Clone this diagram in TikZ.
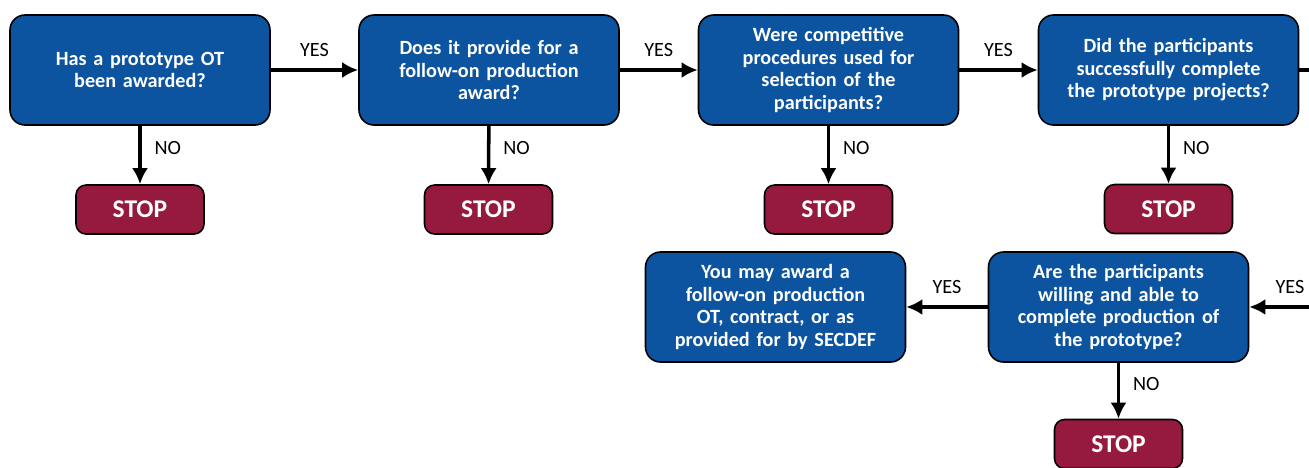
\documentclass[tikz,border=0pt]{standalone}
\usepackage{fontspec}
\setmainfont{Carlito}
\usetikzlibrary{arrows.meta}
\definecolor{qblue}{RGB}{12,84,160}
\definecolor{stopred}{RGB}{150,26,62}
\begin{document}
\begin{tikzpicture}
    [pre/.style={{Latex[length=3.2mm,width=3.2mm]}-,line width=2pt},
     qbox/.style={shape=rectangle,draw=black,line width=0.9pt,fill=qblue,
       rounded corners=0.3cm,minimum width=5.2cm,minimum height=2.2cm,
       text width=4.8cm,align=center,text=white,
       font=\bfseries\fontsize{11.5}{12.8}\selectfont},
     stopbox/.style={shape=rectangle,draw=black,line width=0.9pt,fill=stopred,
       rounded corners=0.2cm,minimum width=2.56cm,minimum height=0.98cm,
       text=white,font=\bfseries\fontsize{14.5}{16}\selectfont},
     lbl/.style={font=\fontsize{11.5}{13}\selectfont}]
    \useasboundingbox (0,0) rectangle (26.18,-9.34);
    \node [qbox] (Q1) at (2.80, -1.40) {Has a prototype OT\\ been awarded?};
    \node [qbox] (Q2) at (9.78, -1.40) {Does it provide for a\\ follow-on production\\ award?}
      edge [pre] node[lbl,above,yshift=3pt] {YES} (Q1);
    \node [qbox] (Q3) at (16.57, -1.40) {Were competitive\\ procedures used for\\ selection of the\\ participants?}
      edge [pre] node[lbl,above,yshift=3pt] {YES} (Q2);
    \node [qbox] (Q4) at (23.37, -1.40) {Did the participants\\ successfully complete\\ the prototype projects?}
      edge [pre] node[lbl,above,yshift=3pt] {YES} (Q3);
    \coordinate (R1) at (26.18, -1.40);
    \draw [line width=2pt] (Q4) -- (R1);
    \node [stopbox] (S1) at (2.80, -4.19) {STOP}
      edge [pre] node[lbl,right,xshift=4pt,pos=0.62] {NO} (Q1);
    \node [stopbox] (S2) at (9.77, -4.19) {STOP}
      edge [pre] node[lbl,right,xshift=4pt,pos=0.62] {NO} (Q2);
    \node [stopbox] (S3) at (16.57, -4.19) {STOP}
      edge [pre] node[lbl,right,xshift=4pt,pos=0.62] {NO} (Q3);
    \node [stopbox] (S4) at (23.37, -4.18) {STOP}
      edge [pre] node[lbl,right,xshift=4pt,pos=0.62] {NO} (Q4);
    \coordinate (R2) at (26.18, -6.14);
    \node [qbox] (Q5) at (22.37, -6.14) {Are the participants\\ willing and able to\\ complete production of\\ the prototype?}
      edge [pre] node[lbl,above,yshift=3pt,pos=0.68] {YES} (R2);
    \node [qbox] (Q6) at (15.51, -6.14) {You may award a\\ follow-on production\\ OT, contract, or as\\ provided for by SECDEF}
      edge [pre] node[lbl,above,yshift=3pt] {YES} (Q5);
    \node [stopbox] (S5) at (22.37, -8.88) {STOP}
      edge [pre] node[lbl,right,xshift=4pt,pos=0.62] {NO} (Q5);
  \end{tikzpicture}
\end{document}
